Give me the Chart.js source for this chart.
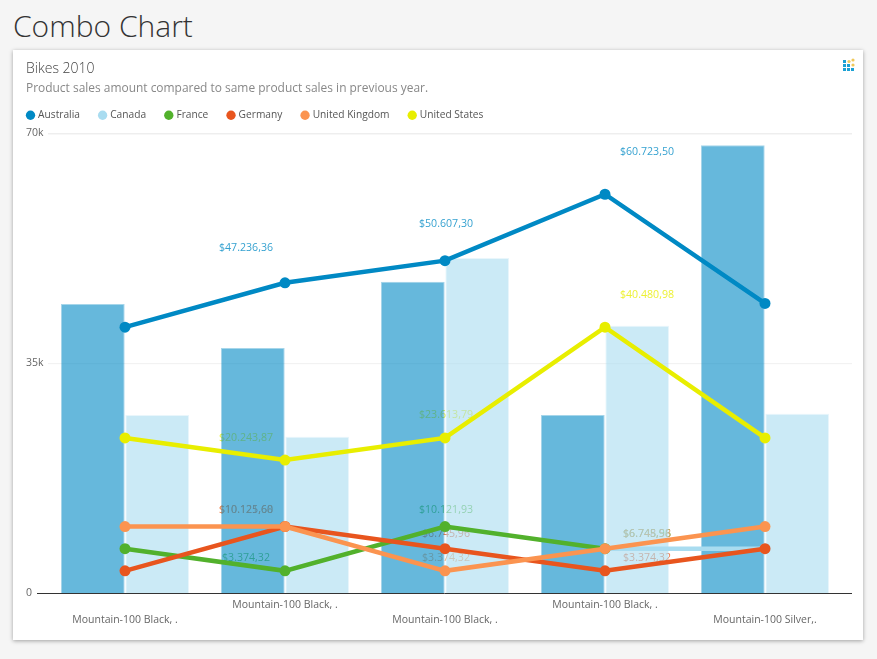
<!DOCTYPE html>
<html>
<head>
<meta charset="utf-8">
<title>Combo Chart</title>
<script src="https://cdn.jsdelivr.net/npm/chart.js@4/dist/chart.umd.min.js"></script>
<style>
html, body { margin: 0; padding: 0; background: #f5f5f5; width: 877px; height: 659px; overflow: hidden; }
h1 { position: absolute; left: 13px; top: 5px; margin: 0; font: 300 30px "Open Sans", sans-serif; color: #333; }
#card { position: absolute; left: 13px; top: 50px; width: 850px; height: 590px; background: #fff; box-shadow: 0 1px 4px rgba(0,0,0,.35); }
#icon { position: absolute; left: 843px; top: 58px; }
canvas { position: absolute; left: 0; top: 0; }
</style>
</head>
<body>
<h1>Combo Chart</h1>
<div id="card"></div>
<svg id="icon" width="14" height="14" viewBox="0 0 14 14">
  <g fill="#1ba1d4">
    <rect x="0" y="2" width="3" height="3"/>
    <rect x="0" y="6" width="3" height="3"/><rect x="4" y="6" width="3" height="3"/>
    <rect x="0" y="10" width="3" height="3"/><rect x="4" y="10" width="3" height="3"/><rect x="8" y="10" width="3" height="3"/>
  </g>
  <g fill="#f0c85a">
    <circle cx="6" cy="3.5" r="1.6"/><circle cx="10" cy="2" r="1.6"/><circle cx="10" cy="7" r="1.6"/>
  </g>
</svg>
<canvas id="combo" width="877" height="659"></canvas>
<script>
const categories = ['Mountain-100 Black, .', 'Mountain-100 Black, .', 'Mountain-100 Black, .', 'Mountain-100 Black, .', 'Mountain-100 Silver,.']
const yTicks = [0, 35000, 70000]

// bars
const australiaBars = [44000, 37300, 47400, 27100, 68200]
const canadaBars = [27100, 23800, 51000, 40700, 27300]

// lines
const australia = [40480.98, 47236.36, 50607.30, 60723.50, 44100]
const canada = [null, null, null, 6748.58, 6748.58]
const france = [6748.58, 3374.32, 10121.93, 6745.96, null]
const germany = [3374.32, 10125.60, 6745.96, 3374.32, 6748.58]
const uk = [10121.93, 10121.68, 3374.32, 6748.58, 10121.93]
const us = [23613.79, 20243.87, 23613.79, 40480.98, 23613.79]

const font = '"Open Sans", sans-serif'

function line(label, data, color, order) {
    return {
        type: 'line', label, data, order,
        borderColor: color,
        backgroundColor: color,
        pointBackgroundColor: color,
        pointBorderWidth: 0,
        borderWidth: 4.5,
        pointRadius: 5.5,
        tension: 0,
        spanGaps: false
    }
}

function bar(label, data, fill, edge) {
    return {
        type: 'bar', label, data, order: 10,
        backgroundColor: fill,
        borderColor: edge,
        borderWidth: 1,
        barPercentage: 0.99,
        categoryPercentage: 0.805
    }
}

// gridlines and the value labels sit behind the translucent bars
const underBars = {
    id: 'underBars',
    afterLayout(chart) {
        chart.legend.left = 7.8
        chart.legend.top -= 3
    },
    beforeDatasetsDraw(chart) {
        const ctx = chart.ctx
        const y = chart.scales.y
        const x = chart.scales.x
        ctx.save()
        yTicks.forEach(v => {
            ctx.strokeStyle = v === 0 ? '#333' : (v === 70000 ? '#e6e6e6' : '#f0f0f0')
            ctx.lineWidth = 1
            ctx.beginPath()
            ctx.moveTo(v === 0 ? 37 : 48, y.getPixelForValue(v) + 0.5)
            ctx.lineTo(852, y.getPixelForValue(v) + 0.5)
            ctx.stroke()
        })
        ctx.font = '10.6px ' + font
        ctx.textAlign = 'center'
        ctx.textBaseline = 'middle'
        ctx.globalAlpha = 0.8
        const shift = {1: -39, 2: 1, 3: 42}
        chart.data.datasets.forEach(ds => {
            if (ds.type !== 'line') return
            ds.data.forEach((v, i) => {
                if (v === null || shift[i] === undefined) return
                const text = '$' + v.toLocaleString('de-DE', {minimumFractionDigits: 2, maximumFractionDigits: 2})
                ctx.fillStyle = ds.borderColor
                ctx.fillText(text, x.getPixelForValue(i) + shift[i], y.getPixelForValue(v) - 11.5 - v / 2000)
            })
        })
        ctx.restore()
    }
}

new Chart(document.getElementById('combo'), {
    data: {
        labels: categories,
        datasets: [
            bar('Australia', australiaBars, 'rgba(0,137,196,0.6)', 'rgba(0,137,196,0.35)'),
            bar('Canada', canadaBars, 'rgba(169,220,240,0.6)', 'rgba(169,220,240,0.25)'),
            line('Australia', australia, '#0089c4', 6),
            line('Canada', canada, '#a9dcf0', 5),
            line('France', france, '#52b12c', 4),
            line('Germany', germany, '#e8551e', 3),
            line('United Kingdom', uk, '#fb9450', 2),
            line('United States', us, '#e8ee00', 1)
        ]
    },
    plugins: [underBars],
    options: {
        responsive: false,
        animation: false,
        layout: {padding: {left: 26, right: 32, top: 61, bottom: 0}},
        plugins: {
            title: {
                display: true, text: 'Bikes 2010', align: 'start', color: '#444',
                font: {family: font, size: 14, weight: 300},
                padding: {top: 0, bottom: 4}
            },
            subtitle: {
                display: true, text: 'Product sales amount compared to same product sales in previous year.',
                align: 'start', color: '#888',
                font: {family: font, size: 11.95, weight: 'normal'},
                padding: {top: 0, bottom: -3.2}
            },
            legend: {
                position: 'top', align: 'start',
                labels: {
                    usePointStyle: true, pointStyle: 'circle', boxHeight: 6.6, boxWidth: 5,
                    padding: 20.2, color: '#555',
                    font: {family: font, size: 10.2},
                    filter: (item, data) => data.datasets[item.datasetIndex].type === 'line',
                    sort: (a, b) => a.datasetIndex - b.datasetIndex,
                    generateLabels(chart) {
                        return Chart.defaults.plugins.legend.labels.generateLabels(chart).map(item => ({...item, lineWidth: 0}))
                    }
                }
            },
            tooltip: {enabled: false}
        },
        scales: {
            x: {
                afterFit(s) { s.height = 66 },
                grid: {display: false, drawTicks: false},
                border: {display: false},
                ticks: {
                    autoSkip: false, maxRotation: 0, minRotation: 0, padding: 4, color: '#666',
                    font: {family: font, size: 10.5, lineHeight: 1.45},
                    callback(v, i) { return i % 2 === 0 ? ['', categories[i]] : categories[i] }
                }
            },
            y: {
                min: 0, max: 70000,
                afterFit(s) { s.width = 19 },
                afterBuildTicks(s) { s.ticks = yTicks.map(value => ({value})) },
                grid: {display: false, drawTicks: false},
                border: {display: false},
                ticks: {
                    crossAlign: 'far', padding: 0, color: '#666',
                    font: {family: font, size: 10.5},
                    callback: v => v === 0 ? '0' : (v / 1000) + 'k'
                }
            }
        }
    }
})
</script>
</body>
</html>
